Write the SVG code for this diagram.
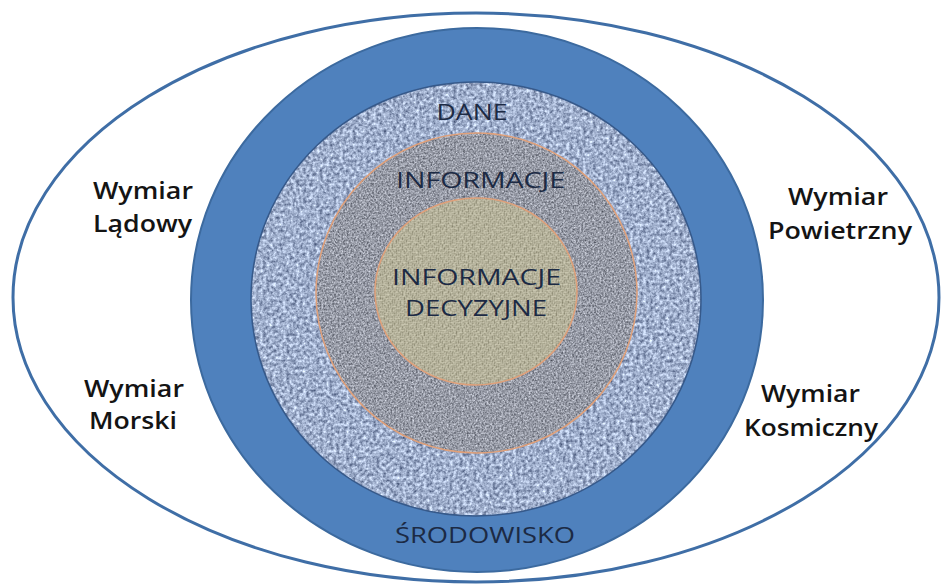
<svg xmlns="http://www.w3.org/2000/svg" width="941" height="584" viewBox="0 0 941 584">
<style>
.dim{font-family:"Open Sans","Liberation Sans",sans-serif;font-weight:600;font-size:23px;fill:#141414;}
.lbl{font-family:"Open Sans","Liberation Sans",sans-serif;font-weight:400;font-size:22px;fill:#1c2a44;text-anchor:middle;}
.wv{fill:#d4d1bc;opacity:0.55;}
</style>
<defs>
<filter id="nBlue" x="0" y="0" width="100%" height="100%" color-interpolation-filters="sRGB">
<feTurbulence type="fractalNoise" baseFrequency="0.3" numOctaves="3" seed="4" result="n"/>
<feColorMatrix in="n" type="matrix" values="0.85 0 0 0 0.2  0.85 0 0 0 0.26  0.8 0 0 0 0.4  0 0 0 0 1" result="c"/>
<feComposite in="c" in2="SourceGraphic" operator="in"/>
</filter>
<filter id="nGray" x="0" y="0" width="100%" height="100%" color-interpolation-filters="sRGB">
<feTurbulence type="fractalNoise" baseFrequency="0.55" numOctaves="3" seed="9" result="n"/>
<feColorMatrix in="n" type="matrix" values="0.7 0 0 0 0.24  0.7 0 0 0 0.255  0.7 0 0 0 0.3  0 0 0 0 1" result="c"/>
<feComposite in="c" in2="SourceGraphic" operator="in"/>
</filter>
<filter id="nBeige" x="0" y="0" width="100%" height="100%" color-interpolation-filters="sRGB">
<feTurbulence type="fractalNoise" baseFrequency="0.5" numOctaves="2" seed="2" result="n"/>
<feColorMatrix in="n" type="matrix" values="0.6 0 0 0 0.3  0.6 0 0 0 0.29  0.6 0 0 0 0.2  0 0 0 0 1" result="c"/>
<feComposite in="c" in2="SourceGraphic" operator="in"/>
</filter>
<pattern id="weave" width="8" height="8" patternUnits="userSpaceOnUse">
<rect class="wv" x="0" y="0" width="4" height="1.6"/>
<rect class="wv" x="0" y="2" width="4" height="1.6"/>
<rect class="wv" x="4.5" y="0" width="1.6" height="4"/>
<rect class="wv" x="6.5" y="0" width="1.6" height="4"/>
<rect class="wv" x="0.5" y="4" width="1.6" height="4"/>
<rect class="wv" x="2.5" y="4" width="1.6" height="4"/>
<rect class="wv" x="4" y="4" width="4" height="1.6"/>
<rect class="wv" x="4" y="6" width="4" height="1.6"/>
</pattern>
</defs>
<rect width="941" height="584" fill="#ffffff"/>
<g id="outer">
<ellipse cx="476" cy="297.5" rx="463" ry="284.5" fill="#ffffff" stroke="#3f6ea6" stroke-width="3"/>
</g>
<g id="srodowisko">
<ellipse cx="477" cy="300" rx="286" ry="272" fill="#4f81bd" stroke="#3c6a9f" stroke-width="2"/>
<text class="lbl" x="485" y="543" textLength="180" lengthAdjust="spacingAndGlyphs">ŚRODOWISKO</text>
</g>
<g id="dane">
<ellipse cx="476" cy="299" rx="225" ry="217" fill="#a6b3ca" filter="url(#nBlue)"/>
<ellipse cx="476" cy="299" rx="225" ry="217" fill="none" stroke="#36598a" stroke-width="1.5"/>
<text class="lbl" x="472" y="120" textLength="71" lengthAdjust="spacingAndGlyphs">DANE</text>
</g>
<g id="informacje">
<ellipse cx="476.5" cy="293" rx="160.5" ry="160" fill="#999aa3" filter="url(#nGray)"/>
<ellipse cx="476.5" cy="293" rx="160.5" ry="160" fill="none" stroke="#dfa07a" stroke-width="1.5"/>
<text class="lbl" x="480.5" y="188" textLength="169" lengthAdjust="spacingAndGlyphs">INFORMACJE</text>
</g>
<g id="informacje-decyzyjne">
<ellipse cx="476" cy="291.5" rx="101" ry="93.5" fill="#bfb69a" filter="url(#nBeige)"/>
<ellipse cx="476" cy="291.5" rx="101" ry="93.5" fill="url(#weave)" stroke="#dfa07a" stroke-width="1.5"/>
<text class="lbl" x="476.5" y="285" textLength="169" lengthAdjust="spacingAndGlyphs">INFORMACJE</text>
<text class="lbl" x="476" y="316" textLength="142" lengthAdjust="spacingAndGlyphs">DECYZYJNE</text>
</g>
<g id="wymiar-ladowy">
<text class="dim" x="93" y="199" textLength="100" lengthAdjust="spacingAndGlyphs">Wymiar</text>
<text class="dim" x="93" y="232" textLength="99" lengthAdjust="spacingAndGlyphs">Lądowy</text>
</g>
<g id="wymiar-powietrzny">
<text class="dim" x="788" y="205" textLength="100" lengthAdjust="spacingAndGlyphs">Wymiar</text>
<text class="dim" x="768" y="239" textLength="144" lengthAdjust="spacingAndGlyphs">Powietrzny</text>
</g>
<g id="wymiar-morski">
<text class="dim" x="84" y="397" textLength="100" lengthAdjust="spacingAndGlyphs">Wymiar</text>
<text class="dim" x="89" y="429" textLength="88" lengthAdjust="spacingAndGlyphs">Morski</text>
</g>
<g id="wymiar-kosmiczny">
<text class="dim" x="761" y="402" textLength="99" lengthAdjust="spacingAndGlyphs">Wymiar</text>
<text class="dim" x="744" y="436" textLength="134" lengthAdjust="spacingAndGlyphs">Kosmiczny</text>
</g>
<g id="connectors"/>
</svg>
